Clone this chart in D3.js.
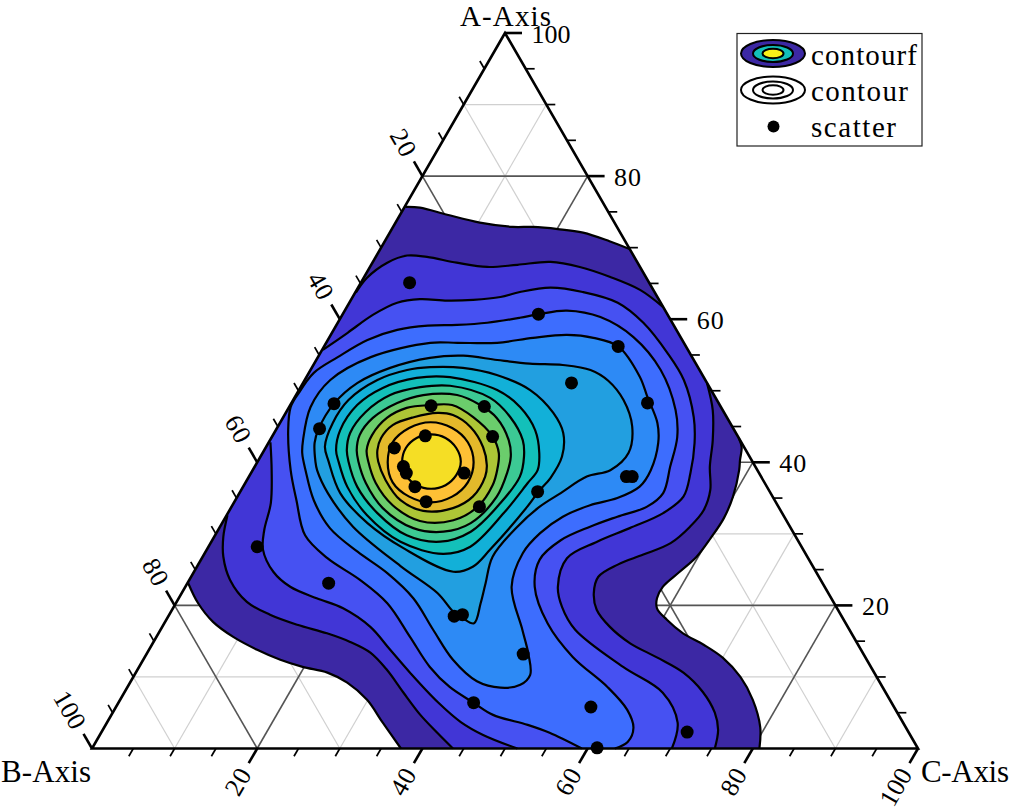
<!DOCTYPE html>
<html><head><meta charset="utf-8">
<script src="https://cdn.jsdelivr.net/npm/d3@7"></script>
<style>html,body{margin:0;padding:0;background:#fff}svg{display:block}text{font-family:"Liberation Serif",serif;fill:#000}</style>
</head><body><svg id="c" width="1011" height="812"></svg>
<script>
// All contour vertices and scatter points are [A, C] percentages (B = 100 - A - C)
const level1 = [
 [[75.7,0.1],[75.6,1.9],[74.6,5.7],[73.5,10.2],[72.9,14.5],[72.9,16.9],[72.6,20.1],[72.1,23.4],[70.9,27.2],[69.8,30.2]],
 [[43.4,56.6],[42.1,57.6],[40.3,58.3],[38.9,58.9],[35.2,60.0],[32.2,60.4],[29.4,60.2],[26.8,59.8],[24.7,58.8],[22.6,57.8],[21.0,57.9],[19.6,58.6],[18.0,60.6],[16.1,63.5],[14.5,66.8],[12.7,70.0],[10.0,73.5],[6.8,76.6],[3.0,79.4],[0,80.8]],
 [[0,37.4],[3.6,33.4],[6.8,29.9],[9.2,26.3],[10.6,23.2],[11.4,19.8],[12.4,16.6],[13.8,13.1],[15.6,9.3],[17.7,5.8],[20.3,2.7],[23.1,0.1]]
];
const level2 = [
 [[63.7,0.1],[65.8,0.4],[67.9,1.8],[68.9,3.7],[68.7,6.2],[67.9,10.2],[67.3,14.2],[67.6,17.7],[68.0,21.5],[67.3,25.4],[65.9,29.8],[64.1,34.3],[61.7,38.3]],
 [[51.1,48.9],[47.3,51.5],[43.1,53.6],[39.4,55.1],[36.1,56.8],[33.3,57.4],[31.0,56.9],[28.7,55.7],[27.1,53.2],[25.7,50.8],[24.0,49.3],[21.7,49.9],[19.4,51.4],[17.0,54.2],[14.7,57.8],[12.7,62.1],[10.6,66.3],[7.9,70.0],[5.0,72.9],[2.6,74.5],[0,75.4]],
 [[0,43.7],[2.2,40.7],[4.7,37.4],[7.9,33.7],[11.0,30.2],[13.4,27.0],[14.9,23.8],[16.1,20.4],[17.3,16.2],[18.7,12.2],[20.5,8.5],[23.6,4.9],[26.8,2.5],[29.6,1.1],[32.6,0.1]]
];
const level3 = [
 [[55.7,0.1],[58.1,1.9],[60.6,3.7],[62.3,5.8],[62.8,8.3],[62.6,11.7],[62.7,14.8],[63.1,17.9],[63.8,19.9],[64.4,23.3],[63.8,27.5],[62.3,32.5],[59.5,37.0],[55.3,42.0],[51.5,45.9],[46.3,49.7],[42.7,51.6],[38.5,53.2],[35.2,54.0],[32.9,52.7],[30.8,49.7],[28.9,46.7],[26.6,44.2],[22.6,45.1],[19.8,47.0],[16.6,50.2],[11.4,58.6],[7.8,65.2],[3.6,69.1],[0,70.2]],
 [[0,51.5],[1.9,46.4],[3.7,42.8],[6.5,38.6],[10.6,33.2],[13.8,29.2],[17.0,25.2],[19.6,20.6],[21.0,16.7],[22.6,12.7],[24.7,9.6],[27.8,6.8],[30.5,5.6],[34.3,4.5],[38.9,2.3],[42.8,0.2]]
];
const level4 = [
 [[49.7,0.2],[52.5,0.6],[54.7,2.4],[57.1,4.8],[58.5,7.7],[59.1,11.1],[59.2,14.6],[59.5,18.1],[60.2,21.7],[60.7,23.7],[61.2,26.9],[60.3,31.4],[57.5,36.8],[52.9,42.4],[47.3,47.0],[43.5,49.1],[39.4,50.3],[35.7,51.3],[33.8,50.3],[32.4,47.4],[31.0,44.8],[29.1,42.2],[26.4,41.0],[22.6,42.3],[17.5,46.4],[12.8,51.8],[8.6,58.1],[5.4,62.1],[2.9,64.1],[0.9,64.4],[0,63.3]],
 [[0,59.3],[2.2,54.3],[3.3,51.1],[4.7,46.2],[6.4,43.0],[8.6,39.0],[11.4,35.2],[15.6,30.7],[20.3,25.6],[23.6,20.6],[26.6,15.2],[29.8,10.9],[34.7,7.4],[38.9,4.6],[44.5,1.5],[47.7,0.2],[49.7,0.2]]
];
const level5 = [[[41.3,4.8],[43.1,4.0],[47.7,2.6],[51.5,3.1],[54.7,6.4],[56.7,12.6],[56.7,15.9],[56.7,20.7],[57.4,24.7],[57.8,28.6],[57.4,32.0],[56.2,35.6],[52.0,40.3],[49.1,42.7],[45.5,45.7],[42.7,47.2],[38.9,48.2],[36.6,48.0],[35.0,46.1],[34.0,43.3],[32.4,40.8],[30.1,39.2],[27.3,38.5],[22.6,39.5],[16.6,43.8],[13.1,46.3],[10.3,47.9],[8.9,47.4],[8.5,45.2],[9.4,41.9],[12.4,37.5],[16.6,33.0],[21.0,28.4],[24.5,23.5],[27.5,18.4],[30.8,13.4],[34.7,9.5],[38.9,6.4]]];
const level6 = [[[40.1,7.0],[42.7,5.6],[44.7,5.1],[48.2,5.2],[51.1,6.6],[53.2,9.5],[54.6,13.6],[54.9,17.5],[54.3,21.9],[53.8,26.1],[53.6,30.2],[52.9,33.9],[51.4,36.8],[48.7,40.0],[45.0,42.9],[41.3,44.3],[38.9,43.3],[38.0,40.9],[35.7,38.9],[33.8,37.3],[31.0,36.0],[26.8,35.1],[23.1,36.1],[20.3,36.9],[17.5,37.5],[18.2,35.8],[19.1,34.2],[21.7,31.0],[25.5,24.6],[31.0,16.1],[35.7,10.7],[38.9,7.8]]];
const level7 = [[[40.1,8.6],[42.2,7.1],[45.5,6.4],[48.7,6.7],[51.5,8.8],[52.9,11.7],[53.3,14.3],[53.2,18.3],[52.2,22.9],[50.1,28.0],[46.9,32.4],[44.1,35.0],[40.8,36.5],[37.8,36.6],[35.9,36.1],[33.8,35.8],[27.8,34.3],[25.4,33.4],[24.7,31.4],[28.0,23.7],[31.5,17.6],[35.7,12.2]]];
const level8 = [[[40.1,9.8],[41.7,8.7],[44.5,7.8],[48.0,8.1],[50.4,10.0],[51.8,13.4],[51.9,17.4],[50.1,24.0],[47.7,28.0],[44.5,31.4],[41.3,33.5],[38.9,34.5],[37.1,34.2],[32.9,33.4],[28.2,31.7],[27.2,28.9],[28.9,22.9],[32.6,17.0],[36.6,12.6]]];
const level9 = [[[40.1,11.0],[41.7,10.0],[44.1,9.2],[47.0,9.6],[49.4,11.4],[50.5,14.5],[50.7,18.0],[49.0,23.7],[46.3,27.5],[43.1,30.6],[40.8,31.9],[38.0,32.8],[34.3,32.3],[30.3,30.7],[28.9,27.7],[29.8,23.2],[32.9,18.1],[36.6,13.8]]];
const level10 = [[[40.1,12.2],[41.7,11.2],[43.8,10.5],[46.2,10.9],[48.3,12.8],[49.4,15.4],[49.4,19.5],[48.0,23.0],[46.2,25.9],[43.1,28.9],[40.8,30.3],[38.5,31.0],[35.2,31.4],[31.5,30.1],[30.3,27.4],[30.8,23.5],[33.6,18.4],[37.1,14.6]]];
const level11 = [[[40.1,13.4],[41.7,12.4],[43.8,12.0],[46.2,12.6],[47.6,14.3],[48.0,17.0],[48.0,19.6],[46.3,23.0],[43.6,26.7],[41.3,28.6],[38.9,29.6],[36.8,30.1],[33.8,29.8],[31.9,27.8],[31.8,23.8],[34.0,19.4],[37.1,15.8]]];
const level12 = [[[40.1,14.6],[41.7,13.7],[43.4,13.3],[45.2,13.8],[46.3,15.8],[46.9,18.4],[46.6,20.4],[44.9,23.4],[42.1,26.3],[39.6,28.0],[38.0,28.6],[35.2,28.5],[33.6,26.9],[33.2,23.5],[34.7,20.0],[37.5,16.8]]];
const level13 = [[[40.0,15.8],[42.8,15.0],[44.8,16.0],[45.6,18.2],[44.8,21.2],[42.8,24.1],[40.0,26.2],[37.2,26.9],[35.2,26.0],[34.4,23.8],[35.2,20.8],[37.2,17.8]]];
const level14 = [[[40.1,17.5],[42.0,17.0],[43.4,17.6],[43.9,19.1],[43.4,21.1],[42.0,23.1],[40.1,24.6],[38.2,25.0],[36.8,24.4],[36.3,22.9],[36.8,20.9],[38.2,18.9]]];
const levels = [level1,level2,level3,level4,level5,level6,level7,level8,level9,level10,level11,level12,level13,level14];
const levelColors = ["#3c28a4","#4136d6","#4651f2","#3d6dfe","#2d8af5","#229fe0","#12b0d8","#13c0b9","#3cc994","#6bcd6c","#adc536","#e3b92b","#fec035","#f5de25"];
const scatterA = [65.1,60.7,56.2,51.1,48.3,48.2,44.7,47.9,47.8,43.6,43.7,42.0,39.4,38.5,36.6,38.5,34.5,33.8,35.9,38.0,38.0,28.2,23.1,18.5,18.7,13.2,6.4,5.8,2.3,0.1];
const scatterC = [5.9,23.7,35.6,32.5,43.1,5.2,5.2,17.1,23.6,26.7,18.5,15.6,18.0,18.8,20.8,25.8,23.2,30.0,36.0,45.7,46.4,5.9,17.1,34.6,35.5,45.6,43.0,57.5,70.9,61.1];
const majorTicks = [20,40,60,80,100];
const minorTicks = [5,10,15,25,30,35,45,50,55,65,70,75,85,90,95];
const darkGrid = [20,40,60,80];
const lightGrid = [10,30,50,70,90];
const axisTitles = ["A-Axis","B-Axis","C-Axis"];
const legendLabels = ["contourf","contour","scatter"];

const uScale = d3.scaleLinear().domain([0,100]).range([92,918]);
const aScale = d3.scaleLinear().domain([0,100]).range([748.5,33]);
const px = (a,c)=>uScale(c+a/2);
const py = a=>aScale(a);
const svg = d3.select("#c");

// Grid lines: for value v, the three constant-value lines as [A,C] endpoints
const gridLines = v=>[
  [[v,0],[v,100-v]],            // A = v
  [[100-v,0],[0,100-v]],        // B = v
  [[100-v,v],[0,v]]             // C = v
];
function drawGrid(vals,color,w){
  vals.forEach(v=>gridLines(v).forEach(s=>{
    svg.append("line").attr("x1",px(...s[0])).attr("y1",py(s[0][0]))
      .attr("x2",px(...s[1])).attr("y2",py(s[1][0]))
      .attr("stroke",color).attr("stroke-width",w);
  }));
}
drawGrid(lightGrid,"#d0d0d0",1.2);
drawGrid(darkGrid,"#555",1.6);

// Filled contours
const openLine = d3.line().x(d=>px(d[0],d[1])).y(d=>py(d[0])).curve(d3.curveCatmullRom);
const closedLine = d3.line().x(d=>px(d[0],d[1])).y(d=>py(d[0])).curve(d3.curveCatmullRomClosed);
levels.forEach((pieces,i)=>{
  const closed = pieces.length===1;
  if(closed){
    svg.append("path").attr("d",closedLine(pieces[0])).attr("fill",levelColors[i])
      .attr("stroke","#000").attr("stroke-width",2.2).attr("stroke-linejoin","round");
  }else{
    const segs = pieces.map(p=>openLine(p));
    const fillD = segs.map((s,k)=>k===0?s:"L"+s.slice(1)).join("")+"Z";
    svg.append("path").attr("d",fillD).attr("fill",levelColors[i]).attr("stroke","none");
    svg.append("path").attr("d",segs.join("")).attr("fill","none")
      .attr("stroke","#000").attr("stroke-width",2.2).attr("stroke-linejoin","round");
  }
});

// Triangle frame
const corners = [[100,0],[0,0],[0,100]];
svg.append("path").attr("d",d3.line().x(d=>px(d[0],d[1])).y(d=>py(d[0])).curve(d3.curveLinearClosed)(corners))
  .attr("fill","none").attr("stroke","#000").attr("stroke-width",2.6).attr("stroke-linejoin","miter");

// Ticks + labels
const axes = [
 {pos:v=>[v,100-v], dir:[1,0]},                  // A, right edge
 {pos:v=>[100-v,0], dir:[-0.5,-0.866], rot:60},  // B, left edge
 {pos:v=>[0,v], dir:[-0.5,0.866], rot:-60}       // C, bottom edge
];
const labelWidth = v=>v===100?39:27;
axes.forEach((ax,k)=>{
  const tick=(v,len,w)=>{
    const [a,c]=ax.pos(v), x=px(a,c), y=py(a);
    svg.append("line").attr("x1",x).attr("y1",y).attr("x2",x+ax.dir[0]*len).attr("y2",y+ax.dir[1]*len)
      .attr("stroke","#000").attr("stroke-width",w).attr("stroke-linecap","butt");
  };
  minorTicks.forEach(v=>tick(v,9,1.7));
  majorTicks.forEach(v=>{
    tick(v,17,2.6);
    const [a,c]=ax.pos(v), x=px(a,c), y=py(a);
    if(k===0){
      svg.append("text").attr("x",x+26.5).attr("y",y+9.5).attr("font-size",26)
        .attr("textLength",labelWidth(v)).attr("lengthAdjust","spacing").text(v);
    }else{
      const tx=x+ax.dir[0]*25, ty=y+ax.dir[1]*25;
      svg.append("text").attr("text-anchor","end")
        .attr("transform",`translate(${tx},${ty}) rotate(${ax.rot})`)
        .attr("dy","0.33em").attr("font-size",26)
        .attr("textLength",labelWidth(v)).attr("lengthAdjust","spacing").text(v);
    }
  });
});

// Scatter
svg.selectAll("circle.s").data(scatterA.map((a,i)=>[a,scatterC[i]])).join("circle")
  .attr("class","s").attr("cx",d=>px(d[0],d[1])).attr("cy",d=>py(d[0])).attr("r",6.5).attr("fill","#000");

// Axis titles
const titlePos = [[505.5,26,"middle"],[1,782,"start"],[921,782,"start"]];
const titleSize = [29,31,31], titleWidth = [91,90,88];
axisTitles.forEach((t,i)=>{
  svg.append("text").attr("x",titlePos[i][0]).attr("y",titlePos[i][1]).attr("text-anchor",titlePos[i][2])
    .attr("font-size",titleSize[i]).attr("textLength",titleWidth[i]).attr("lengthAdjust","spacing").text(t);
});

// Legend
svg.append("rect").attr("x",737).attr("y",33.5).attr("width",185).attr("height",112.5)
  .attr("fill","#fff").attr("stroke","#222").attr("stroke-width",1.2);
const legendRings = [[32,13.5],[20,8.5],[10.5,4.8]];
legendRings.forEach((r,i)=>{
  svg.append("ellipse").attr("cx",773).attr("cy",53.5).attr("rx",r[0]).attr("ry",r[1])
    .attr("fill",["#3c28a4","#13c0b9","#f8f018"][i]).attr("stroke","#000").attr("stroke-width",2);
  svg.append("ellipse").attr("cx",773).attr("cy",90).attr("rx",r[0]).attr("ry",r[1])
    .attr("fill","#fff").attr("stroke","#000").attr("stroke-width",2);
});
svg.append("circle").attr("cx",773.5).attr("cy",126.5).attr("r",6).attr("fill","#000");
const legendWidths = [106,97,85], legendBase=[65,101,137];
legendLabels.forEach((t,i)=>{
  svg.append("text").attr("x",811).attr("y",legendBase[i]).attr("font-size",29)
    .attr("textLength",legendWidths[i]).attr("lengthAdjust","spacing").text(t);
});
</script></body></html>
